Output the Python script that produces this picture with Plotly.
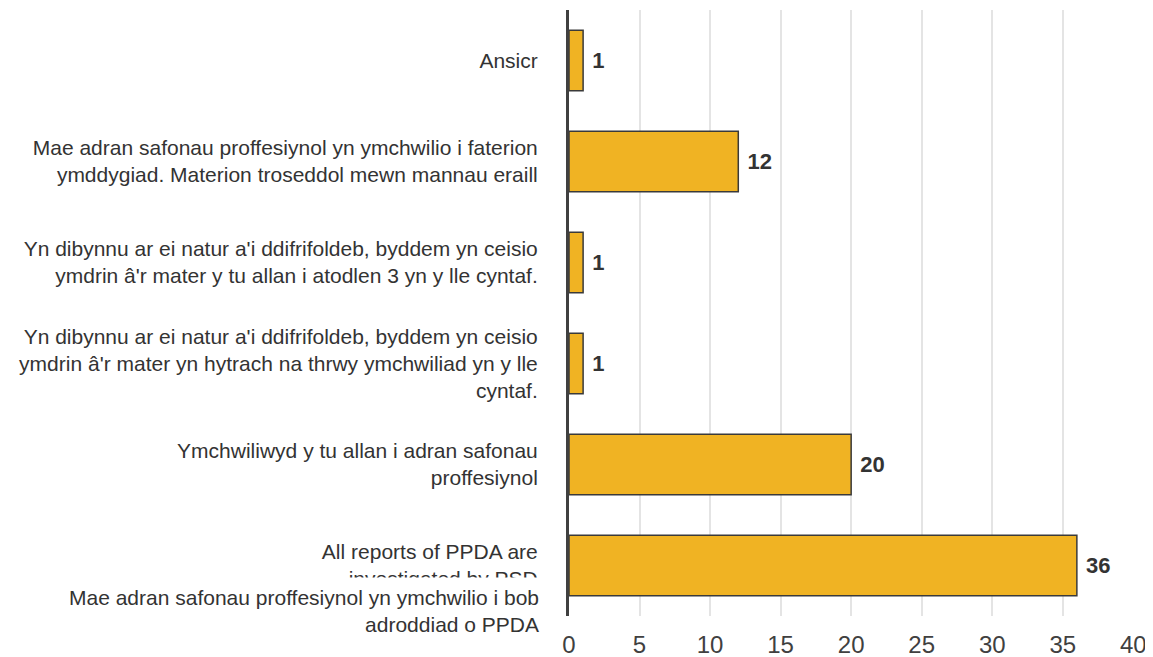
import plotly.graph_objects as go

categories = [
    "Ansicr",
    "Mae adran safonau proffesiynol yn ymchwilio i faterion<br>ymddygiad. Materion troseddol mewn mannau eraill",
    "Yn dibynnu ar ei natur a'i ddifrifoldeb, byddem yn ceisio<br>ymdrin â'r mater y tu allan i atodlen 3 yn y lle cyntaf.",
    "Yn dibynnu ar ei natur a'i ddifrifoldeb, byddem yn ceisio<br>ymdrin â'r mater yn hytrach na thrwy ymchwiliad yn y lle<br>cyntaf.",
    "Ymchwiliwyd y tu allan i adran safonau<br>proffesiynol",
    "All reports of PPDA are<br>investigated by PSD",
]
overlay_label = "Mae adran safonau proffesiynol yn ymchwilio i bob<br>adroddiad o PPDA"
values = [1, 12, 1, 1, 20, 36]
x_ticks = [0, 5, 10, 15, 20, 25, 30, 35, 40]

positions = list(range(len(categories)))
font_family = "Liberation Sans, Arial, sans-serif"

fig = go.Figure(
    go.Bar(
        x=values,
        y=positions,
        orientation="h",
        width=0.6,
        marker=dict(color="#F0B323", line=dict(color="#3a3a3a", width=1.5)),
        texttemplate=" %{x}",
        textposition="outside",
        textfont=dict(family=font_family, size=22, color="#333333", weight="bold"),
        cliponaxis=False,
    )
)

# page body has an 8px default margin, so the figure is sized/offset to fit the window
fig.update_layout(
    width=1145,
    height=649,
    margin=dict(l=561, r=19, t=2, b=41),
    plot_bgcolor="white",
    paper_bgcolor="white",
    showlegend=False,
    font=dict(family=font_family),
    xaxis=dict(
        range=[0, 40.05],
        tickvals=x_ticks,
        showgrid=True,
        gridcolor="#e4e4e4",
        gridwidth=1.5,
        zeroline=False,
        tickfont=dict(size=24, color="#404040"),
        ticks="outside",
        ticklen=7,
        tickcolor="rgba(0,0,0,0)",
        automargin=False,
        fixedrange=True,
    ),
    yaxis=dict(
        range=[len(categories) - 0.5, -0.5],
        tickvals=positions,
        ticktext=categories,
        showline=True,
        linecolor="#404040",
        linewidth=3,
        showgrid=False,
        zeroline=False,
        ticks="outside",
        ticklen=24,
        tickcolor="rgba(0,0,0,0)",
        tickfont=dict(size=21, color="#333333"),
        automargin=False,
    ),
)

fig.add_annotation(
    xref="paper",
    yref="y",
    x=0,
    y=positions[-1],
    xanchor="right",
    yanchor="middle",
    xshift=-21,
    yshift=-45,
    text=overlay_label,
    align="right",
    showarrow=False,
    bgcolor="white",
    borderpad=8,
    font=dict(family=font_family, size=21, color="#333333"),
)

fig.write_html("out.html")
